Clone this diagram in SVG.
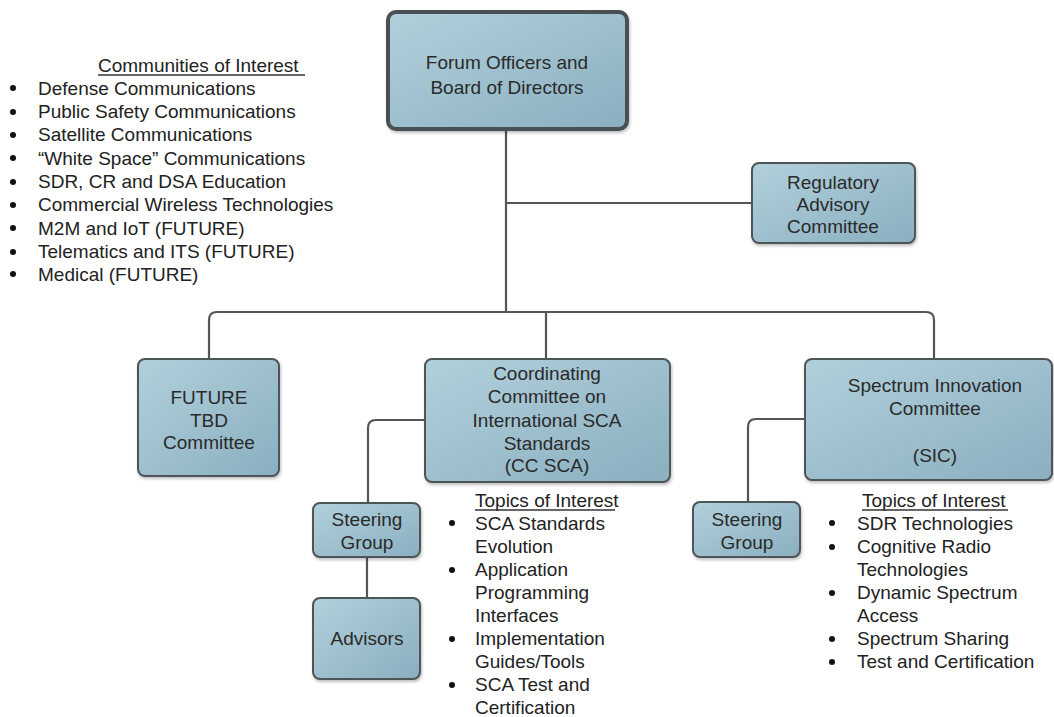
<svg xmlns="http://www.w3.org/2000/svg" width="1054" height="717" viewBox="0 0 1054 717">
<defs>
<linearGradient id="boxfill" x1="0" y1="0" x2="1" y2="1">
<stop offset="0" stop-color="#b2d0dc"/>
<stop offset="1" stop-color="#8aafbf"/>
</linearGradient>
<filter id="sh" x="-10%" y="-10%" width="120%" height="130%">
<feDropShadow dx="1" dy="2" stdDeviation="1.5" flood-color="#000" flood-opacity="0.25"/>
</filter>
</defs>
<style>
.box{fill:url(#boxfill);stroke:#4d5558;stroke-width:2;filter:url(#sh)}
.top{stroke-width:4;stroke:#4a5053}
.bt{font-family:"Liberation Sans",Arial,sans-serif;font-size:19px;fill:#2a2a2a;text-anchor:middle}
.lt{font-family:"Liberation Sans",Arial,sans-serif;font-size:19px;fill:#222}
.conn{fill:none;stroke:#555;stroke-width:2.2;stroke-linejoin:round}
.ul{stroke:#333;stroke-width:1.3}
.dot{fill:#111}
</style>
<rect width="1054" height="717" fill="#fff"/>
<g id="connectors">
<path class="conn" d="M506,130 V312"/>
<path class="conn" d="M506,203 H752"/>
<path class="conn" d="M209,359 V320 Q209,312 217,312 H926 Q934,312 934,320 V359"/>
<path class="conn" d="M546,312 V359"/>
<path class="conn" d="M425,420 H376 Q368,420 368,428 V503"/>
<path class="conn" d="M367,557 V598"/>
<path class="conn" d="M805,419 H756 Q748,419 748,427 V502"/>
</g>
<g id="forum">
<rect class="box top" x="388" y="12" width="239" height="117" rx="8"/>
<text class="bt" x="507" y="69">Forum Officers and</text>
<text class="bt" x="507" y="94">Board of Directors</text>
</g>
<g id="regulatory">
<rect class="box" x="752" y="163" width="163" height="80" rx="7"/>
<text class="bt" x="833" y="189">Regulatory</text>
<text class="bt" x="833" y="211">Advisory</text>
<text class="bt" x="833" y="233">Committee</text>
</g>
<g id="future">
<rect class="box" x="138" y="359" width="141" height="117" rx="7"/>
<text class="bt" x="209" y="404">FUTURE</text>
<text class="bt" x="209" y="427">TBD</text>
<text class="bt" x="209" y="449">Committee</text>
</g>
<g id="ccsca">
<rect class="box" x="425" y="359" width="245" height="123" rx="7"/>
<text class="bt" x="547" y="380">Coordinating</text>
<text class="bt" x="547" y="403">Committee on</text>
<text class="bt" x="547" y="427">International SCA</text>
<text class="bt" x="547" y="450">Standards</text>
<text class="bt" x="547" y="472">(CC SCA)</text>
</g>
<g id="sic">
<rect class="box" x="805" y="359" width="247" height="121" rx="7"/>
<text class="bt" x="935" y="392">Spectrum Innovation</text>
<text class="bt" x="935" y="415">Committee</text>
<text class="bt" x="935" y="462">(SIC)</text>
</g>
<g id="steering-cc">
<rect class="box" x="313" y="503" width="107" height="54" rx="7"/>
<text class="bt" x="367" y="526">Steering</text>
<text class="bt" x="367" y="549">Group</text>
</g>
<g id="advisors">
<rect class="box" x="313" y="598" width="107" height="81" rx="7"/>
<text class="bt" x="367" y="645">Advisors</text>
</g>
<g id="steering-sic">
<rect class="box" x="693" y="502" width="107" height="55" rx="7"/>
<text class="bt" x="747" y="526">Steering</text>
<text class="bt" x="747" y="549">Group</text>
</g>
<g id="communities">
<text class="lt" x="98" y="72">Communities of Interest</text>
<line class="ul" x1="98" y1="75" x2="305" y2="75"/>
<circle class="dot" cx="13" cy="88" r="3"/><text class="lt" x="38" y="95">Defense Communications</text>
<circle class="dot" cx="13" cy="112" r="3"/><text class="lt" x="38" y="118">Public Safety Communications</text>
<circle class="dot" cx="13" cy="135" r="3"/><text class="lt" x="38" y="141">Satellite Communications</text>
<circle class="dot" cx="13" cy="158" r="3"/><text class="lt" x="38" y="165">“White Space” Communications</text>
<circle class="dot" cx="13" cy="182" r="3"/><text class="lt" x="38" y="188">SDR, CR and DSA Education</text>
<circle class="dot" cx="13" cy="205" r="3"/><text class="lt" x="38" y="211">Commercial Wireless Technologies</text>
<circle class="dot" cx="13" cy="228" r="3"/><text class="lt" x="38" y="235">M2M and IoT (FUTURE)</text>
<circle class="dot" cx="13" cy="252" r="3"/><text class="lt" x="38" y="258">Telematics and ITS (FUTURE)</text>
<circle class="dot" cx="13" cy="274" r="3"/><text class="lt" x="38" y="281">Medical (FUTURE)</text>
</g>
<g id="topics-cc">
<text class="lt" x="475" y="507">Topics of Interest</text>
<line class="ul" x1="475" y1="510" x2="615" y2="510"/>
<circle class="dot" cx="452" cy="523" r="3"/><text class="lt" x="475" y="530">SCA Standards</text>
<text class="lt" x="475" y="553">Evolution</text>
<circle class="dot" cx="452" cy="570" r="3"/><text class="lt" x="475" y="576">Application</text>
<text class="lt" x="475" y="599">Programming</text>
<text class="lt" x="475" y="622">Interfaces</text>
<circle class="dot" cx="452" cy="639" r="3"/><text class="lt" x="475" y="645">Implementation</text>
<text class="lt" x="475" y="668">Guides/Tools</text>
<circle class="dot" cx="452" cy="685" r="3"/><text class="lt" x="475" y="691">SCA Test and</text>
<text class="lt" x="475" y="714">Certification</text>
</g>
<g id="topics-sic">
<text class="lt" x="862" y="507">Topics of Interest</text>
<line class="ul" x1="862" y1="510" x2="1008" y2="510"/>
<circle class="dot" cx="832" cy="523" r="3"/><text class="lt" x="857" y="530">SDR Technologies</text>
<circle class="dot" cx="832" cy="547" r="3"/><text class="lt" x="857" y="553">Cognitive Radio</text>
<text class="lt" x="857" y="576">Technologies</text>
<circle class="dot" cx="832" cy="593" r="3"/><text class="lt" x="857" y="599">Dynamic Spectrum</text>
<text class="lt" x="857" y="622">Access</text>
<circle class="dot" cx="832" cy="639" r="3"/><text class="lt" x="857" y="645">Spectrum Sharing</text>
<circle class="dot" cx="832" cy="662" r="3"/><text class="lt" x="857" y="668">Test and Certification</text>
</g>
</svg>
